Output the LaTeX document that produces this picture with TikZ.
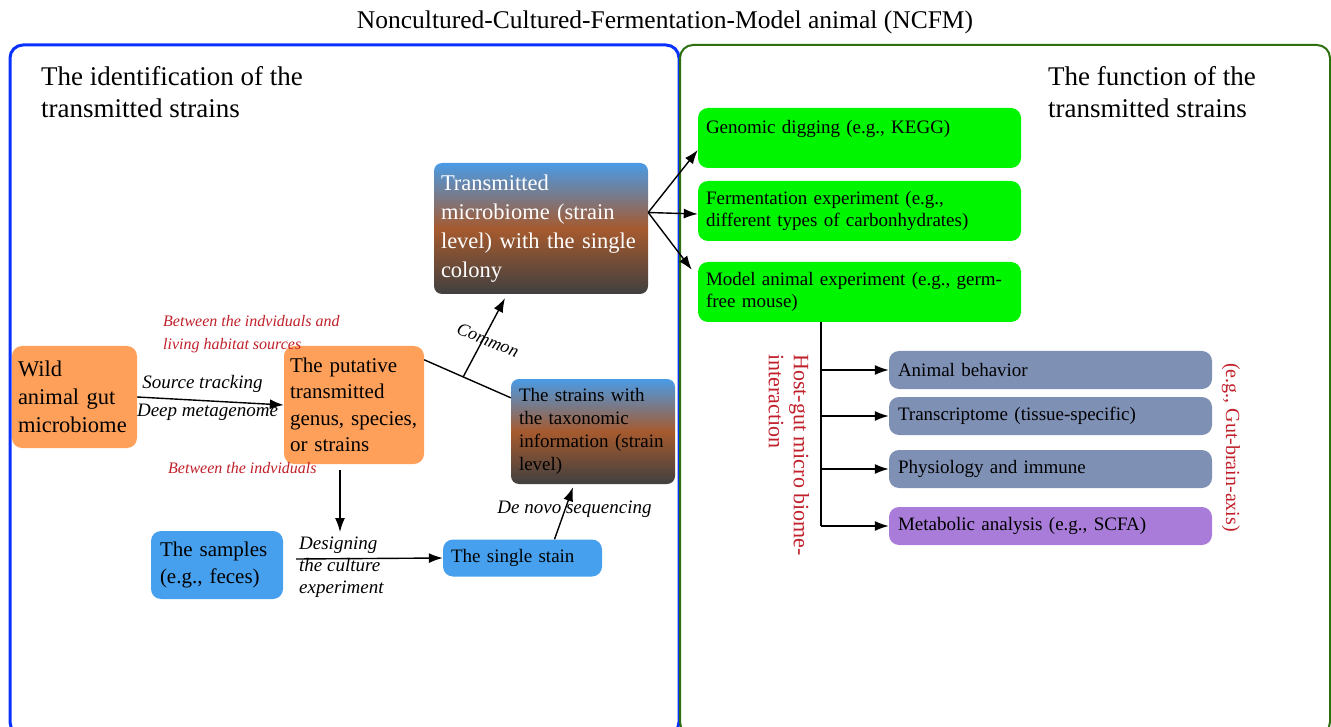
\documentclass[tikz,border=0pt]{standalone}
\usepackage{fontspec}
\setmainfont{Liberation Serif}
\usetikzlibrary{positioning,arrows.meta}

\definecolor{boxorange}{RGB}{255,160,90}
\definecolor{boxblue}{RGB}{70,160,238}
\definecolor{boxgreen}{RGB}{0,245,0}
\definecolor{boxgray}{RGB}{127,144,181}
\definecolor{boxpurple}{RGB}{168,124,216}
\definecolor{gradtop}{RGB}{74,155,230}
\definecolor{gradmid}{RGB}{166,90,46}
\definecolor{gradbot}{RGB}{64,64,64}
\definecolor{notered}{RGB}{192,32,42}
\definecolor{leftframe}{RGB}{10,50,255}
\definecolor{rightframe}{RGB}{46,112,16}

\begin{document}
\begin{tikzpicture}[x=1pt, y=-1pt,
        box/.style={rectangle, rounded corners=10pt, align=left, inner ysep=0pt},
        orangebox/.style={box, fill=boxorange},
        bluebox/.style={box, fill=boxblue},
        gradbox/.style={box, rounded corners=8pt, top color=gradtop, bottom color=gradbot, middle color=gradmid},
        greenbox/.style={box, fill=boxgreen, minimum width=323pt, minimum height=60pt, inner xsep=8pt, text width=307pt, font=\fontsize{19}{22}\selectfont},
        graybox/.style={box, fill=boxgray, minimum width=323pt, minimum height=38pt, inner xsep=9pt, text width=305pt, font=\fontsize{19}{22}\selectfont},
        purplebox/.style={graybox, fill=boxpurple},
        arr/.style={-{Latex[length=14pt,width=10pt]}, line width=1.4pt},
        edgelabel/.style={font=\fontsize{19}{22}\selectfont\itshape, align=left, inner sep=2pt},
        rednote/.style={text=notered, font=\fontsize{16}{23}\selectfont\itshape, align=left, inner sep=0pt},
        heading/.style={font=\fontsize{27}{32}\selectfont, align=left, inner sep=0pt},
]
        \useasboundingbox (0,0) rectangle (1331,727);

        % title and the two panels
        \node (title) at (665,22) {\fontsize{25.5}{30}\selectfont Noncultured-Cultured-Fermentation-Model animal (NCFM)};
        \draw[leftframe, line width=3pt, rounded corners=13pt] (10,45) rectangle (679,735);
        \draw[rightframe, line width=2pt, rounded corners=13pt] (680,45) rectangle (1330,735);
        \node[heading, anchor=north west] (leftheading) at (41,66) {The identification of the\\transmitted strains};
        \node[heading, anchor=north west] (rightheading) at (1048,66) {The function of the\\transmitted strains};

        % identification side
        \node[orangebox, minimum width=125pt, minimum height=102pt, inner xsep=6pt, text width=113pt, font=\fontsize{22.5}{28}\selectfont] (wild) at (74.5,397) {Wild\\animal gut\\microbiome};
        \node[orangebox, minimum width=140pt, minimum height=118pt, inner xsep=6pt, text width=128pt, font=\fontsize{21}{26.5}\selectfont] (putative) at (354,405) {The putative\\transmitted\\genus, species,\\or strains};
        \node[gradbox, text=white, minimum width=214pt, minimum height=131pt, inner xsep=7pt, text width=200pt, font=\fontsize{22.5}{29}\selectfont] (transmitted) at (541,228.5) {Transmitted\\microbiome (strain\\level) with the single\\colony};
        \node[gradbox, minimum width=164pt, minimum height=105pt, inner xsep=8pt, text width=148pt, font=\fontsize{19}{23}\selectfont] (strains) at (593,431.5) {The strains with\\the taxonomic\\information (strain\\level)};
        \node[bluebox, minimum width=132pt, minimum height=68pt, inner xsep=9pt, text width=114pt, font=\fontsize{21}{27}\selectfont] (samples) at (217,565) {The samples\\(e.g., feces)};
        \node[bluebox, minimum width=159pt, minimum height=37pt, inner xsep=8pt, text width=143pt, font=\fontsize{19}{22}\selectfont] (single) at (522.5,558) {The single stain};

        \node[rednote, anchor=west] (habitatnote) at (163,334) {Between the indviduals and\\living habitat sources};
        \node[rednote, anchor=west] (indivnote) at (168,468) {Between the indviduals};

        \draw[arr] (wild.east) -- (putative.west)
            node[edgelabel, midway, above, xshift=-8pt, yshift=6pt] {Source tracking}
            node[edgelabel, midway, below, xshift=-3pt] {Deep metagenome};
        \coordinate (designtip) at (340,532);
        \draw[arr] ([xshift=-14pt, yshift=-6pt]putative.south) -- (designtip);
        \draw[arr] ([xshift=13pt, yshift=6pt]samples.east) -- (single.west);
        \node[edgelabel, anchor=west, inner sep=0pt] (designlabel) at (299,567) {Designing\\the culture\\experiment};
        \draw[arr] ([xshift=32pt]single.north) -- ([xshift=-20pt, yshift=-3pt]strains.south);
        \node[edgelabel] (denovo) at (574.5,509) {De novo sequencing};
        \draw[line width=1.4pt] ([yshift=-14pt]putative.north east) -- coordinate[pos=0.45] (commonfork) ([yshift=-19pt]strains.north west);
        \draw[arr] (commonfork) -- ([xshift=-36pt, yshift=-4pt]transmitted.south);
        \node[edgelabel, rotate=-22, font=\fontsize{18}{22}\selectfont\itshape] (commonlabel) at (488,340) {Common};

        % function side
        \node[greenbox] (genomic) at (859.5,138) {Genomic digging (e.g., KEGG)\\\mbox{}};
        \node[greenbox] (fermentation) at (859.5,211) {Fermentation experiment (e.g.,\\different types of carbonhydrates)};
        \node[greenbox] (model) at (859.5,292) {Model animal experiment (e.g., germ-\\free mouse)};
        \coordinate (fanroot) at ([yshift=16pt]transmitted.east);
        \draw[arr] (fanroot) -- ([yshift=-12pt]genomic.west);
        \draw[arr] (fanroot) -- ([yshift=-3pt]fermentation.west);
        \draw[arr] (fanroot) -- ([xshift=-6pt, yshift=-8pt]model.north west);

        \node[graybox] (behavior) at (1050.5,370) {Animal behavior};
        \node[graybox] (transcriptome) at (1050.5,416) {Transcriptome (tissue-specific)};
        \node[graybox] (physiology) at (1050.5,469) {Physiology and immune};
        \node[purplebox] (metabolic) at (1050.5,526) {Metabolic analysis (e.g., SCFA)};

        \coordinate (trunktop) at ([xshift=-38.5pt]model.south);
        \draw[line width=1.4pt] (trunktop) -- (trunktop |- metabolic.west);
        \foreach \target in {behavior, transcriptome, physiology, metabolic}
            \draw[arr] (trunktop |- \target.west) -- (\target.west);

        \node[rednote, font=\fontsize{22}{25}\selectfont, rotate=-90] (hostnote) at (789,455) {Host-gut micro biome-\\interaction};
        \node[rednote, font=\fontsize{20}{24}\selectfont, rotate=-90] (axisnote) at (1231,447.5) {(e.g., Gut-brain-axis)};
\end{tikzpicture}
\end{document}
